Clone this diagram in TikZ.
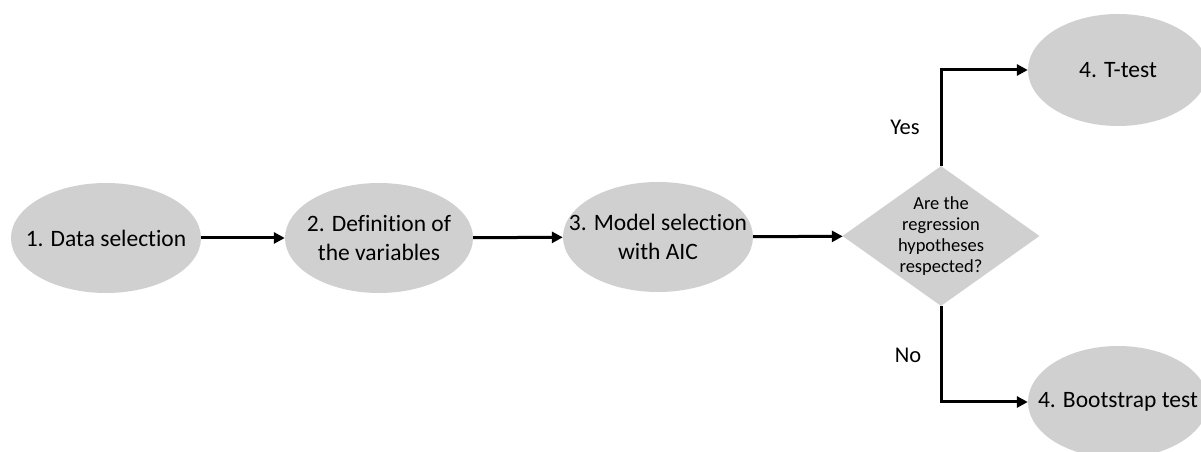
\documentclass[tikz,border=0pt]{standalone}
\usepackage{fontspec}
\setmainfont[Ligatures=NoCommon]{Carlito}
\usetikzlibrary{shapes.geometric,arrows.meta}
\definecolor{stagegray}{RGB}{208,208,208}
\begin{document}
\begin{tikzpicture}[x=1pt, y=1pt,
    stage/.style={ellipse, fill=stagegray, minimum width=190pt, minimum height=110pt,
        inner xsep=-30pt, inner ysep=0pt, align=center, font=\fontsize{23.5}{29}\selectfont},
    decision/.style={diamond, fill=stagegray, minimum width=197pt, minimum height=140pt,
        inner sep=0pt},
    flow/.style={line width=3pt, -{Triangle[length=11pt, width=11pt]}},
    answer/.style={font=\fontsize{22.5}{27}\selectfont}]
    \useasboundingbox (0,0) rectangle (1201,452);
    \node[stage] (data) at (106,214) {1. Data selection};
    \node[stage, minimum width=188pt] (vars) at (379,214) {2. Definition of\\the variables};
    \node[stage] (model) at (658,215) {3. Model selection\\with AIC};
    \node[decision] (check) at (941,216) {};
    \node[align=center, font=\fontsize{18.5}{21}\selectfont] (checktext) at (check)
        {Are the\\regression\\hypotheses\\respected?};
    \node[stage, minimum width=180pt, minimum height=112pt] (ttest) at (1118,382) {4. T-test};
    \node[stage, minimum width=180pt, minimum height=112pt] (boot) at (1118,50) {4. Bootstrap test};
    \draw[flow] (data) -- (vars);
    \draw[flow] (vars) -- (model);
    \draw[flow] (model) -- (check);
    \draw[flow] (check.north) |- (ttest.west);
    \draw[flow] (check.south) |- (boot.west);
    \node[answer] (yes) at (905,325) {Yes};
    \node[answer] (no) at (908,97) {No};
\end{tikzpicture}
\end{document}
